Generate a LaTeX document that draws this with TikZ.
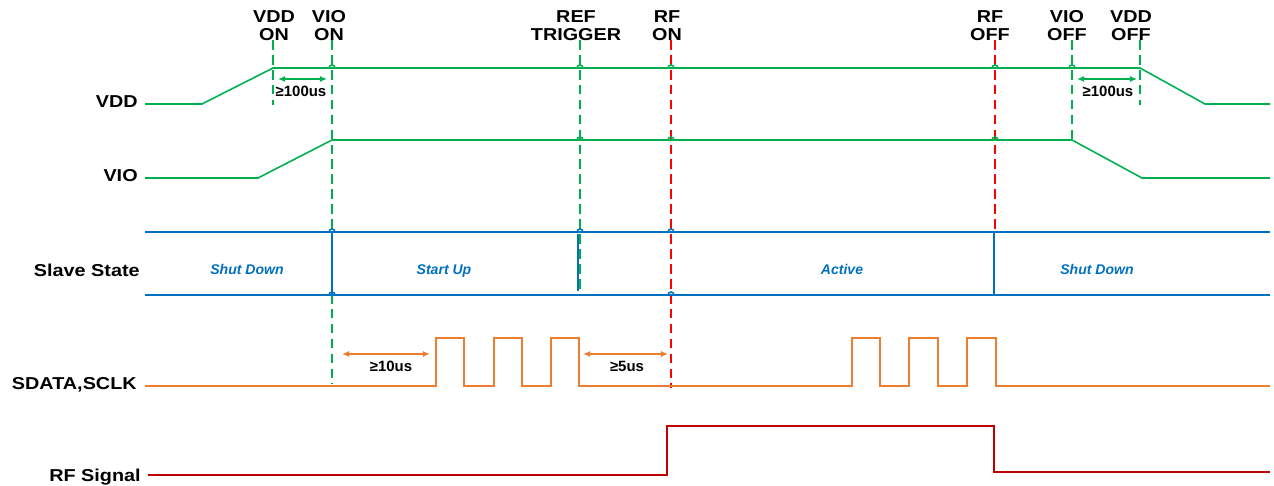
\documentclass[tikz,border=0pt]{standalone}
\usepackage{fontspec}
\setmainfont{Liberation Sans}
\newfontfamily\widefont[FakeStretch=1.15]{Liberation Sans}
\usetikzlibrary{arrows.meta, positioning}
\definecolor{sgreen}{RGB}{0,176,80}
\definecolor{sblue}{RGB}{0,112,192}
\definecolor{sorange}{RGB}{237,125,49}
\definecolor{sred}{RGB}{255,0,0}
\definecolor{sdkred}{RGB}{192,0,0}

\begin{document}
\begin{tikzpicture}[x=0.02cm, y=-0.02cm,
    sig/.style={line width=0.9pt},
    evt/.style={line width=1.1pt, dash pattern=on 5.5pt off 3pt},
    tick/.style={font=\widefont\bfseries\fontsize{9.8}{10.4}\selectfont, align=center, anchor=north, inner sep=0pt},
    lbl/.style={font=\widefont\bfseries\fontsize{9.8}{12}\selectfont, anchor=base east, inner sep=0pt},
    st/.style={font=\bfseries\itshape\fontsize{8}{9}\selectfont, text=sblue, anchor=base},
    dim/.style={font=\bfseries\fontsize{8.5}{10}\selectfont, inner sep=0pt},
    dimarr/.style={{Latex[length=4pt,width=3.5pt]}-{Latex[length=4pt,width=3.5pt]}, line width=1pt}]
    \useasboundingbox (0,0) rectangle (1274,486);

    \node[lbl] (vdd) at (138,108) {VDD};
    \node[lbl] (vio) at (138,182) {VIO};
    \node[lbl] (slave) at (140,276) {Slave State};
    \node[lbl] (sdata) at (137,389) {SDATA,SCLK};
    \node[lbl] (rfsig) at (141,481) {RF Signal};

    \node[tick] (vddon) at (274,10) {VDD\\ON};
    \node[tick] (vioon) at (329,10) {VIO\\ON};
    \node[tick] (reftrig) at (576,10) {REF\\TRIGGER};
    \node[tick] (rfon) at (667,10) {RF\\ON};
    \node[tick] (rfoff) at (990,10) {RF\\OFF};
    \node[tick] (viooff) at (1067,10) {VIO\\OFF};
    \node[tick] (vddoff) at (1131,10) {VDD\\OFF};

    \draw[evt, sgreen] (273,40) -- (273,105);
    \draw[evt, sgreen] (332,40) -- (332,384);
    \draw[evt, sgreen] (580,40) -- (580,290);
    \draw[evt, sred] (671,40) -- (671,388);
    \draw[evt, sred] (995,40) -- (995,230);
    \draw[evt, sgreen] (1072,40) -- (1072,140);
    \draw[evt, sgreen] (1140,40) -- (1140,105);

    \draw[sig, sgreen] (145,104) -- (202,104) -- (273,68) -- (1140,68) -- (1205,104) -- (1270,104);
    \draw[sig, sgreen] (145,178) -- (258,178) -- (332,140) -- (1072,140) -- (1142,178) -- (1270,178);
    \draw[sig, sblue] (145,232) -- (1270,232) (145,295) -- (1270,295);
    \draw[sig, sblue] (332,232) -- (332,295) (578,234) -- (578,291) (994,232) -- (994,295);
    \draw[sig, sorange] (145,386) -| (436,338) -| (464,386) -| (494,338) -| (522,386) -| (551,338) -| (579,386)
        -| (852,338) -| (880,386) -| (909,338) -| (938,386) -| (967,338) -| (996,386) -- (1270,386);
    \draw[sig, sdkred] (148,475) -| (667,426) -| (994,472) -- (1270,472);

    \foreach \hx/\hy/\hc in {332/68/sgreen, 580/68/sgreen, 671/68/sgreen, 995/68/sgreen, 1072/68/sgreen,
        580/140/sgreen, 671/140/sgreen, 995/140/sgreen,
        332/232/sblue, 580/232/sblue, 671/232/sblue, 332/295/sblue, 671/295/sblue}
        \draw[sig, \hc] (\hx-3,\hy) arc[start angle=180, end angle=360, radius=3];

    \node[st] (shut1) at (247,275) {Shut Down};
    \node[st] (startup) at (444,275) {Start Up};
    \node[st] (active) at (842,275) {Active};
    \node[st] (shut2) at (1097,275) {Shut Down};

    \draw[dimarr, sgreen] (278,79) -- (327,79);
    \node[dim] (t1) at (301,91) {≥100us};
    \draw[dimarr, sgreen] (1077,79) -- (1137,79);
    \node[dim] (t2) at (1108,91) {≥100us};
    \draw[dimarr, sorange] (342,354) -- (430,354);
    \node[dim] (t3) at (391,366) {≥10us};
    \draw[dimarr, sorange] (583,354) -- (668,354);
    \node[dim] (t4) at (627,366) {≥5us};
\end{tikzpicture}
\end{document}
